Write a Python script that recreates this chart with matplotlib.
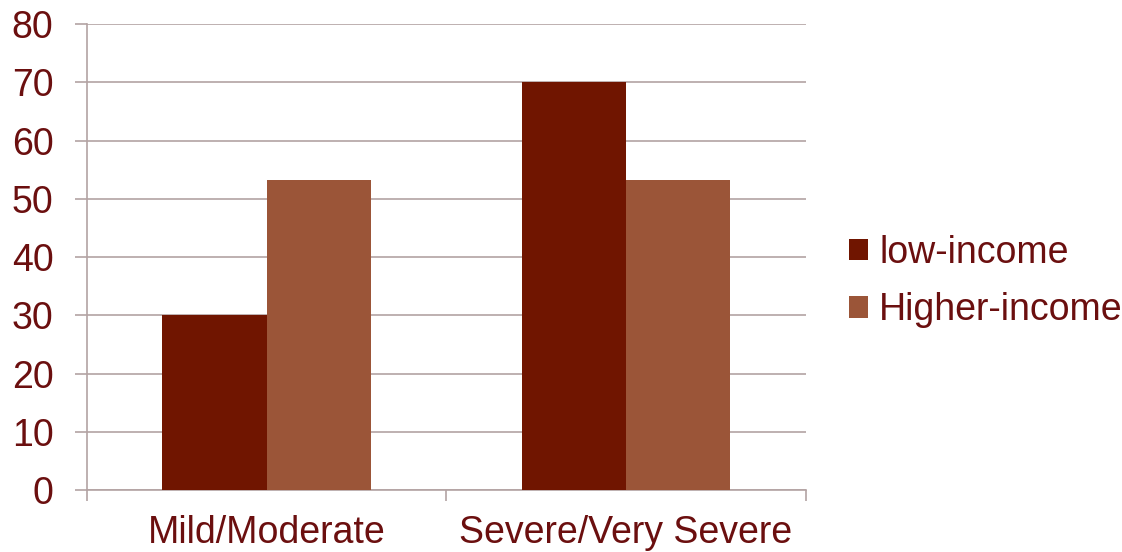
import matplotlib.pyplot as plt
import numpy as np

categories = ['Mild/Moderate', 'Severe/Very Severe']
low_income = [30, 70]
higher_income = [53.3, 53.3]
series_labels = ['low-income', 'Higher-income']

text_color = '#6b0f0f'
grid_color = '#b3a3a3'
colors = ['#701500', '#9b5538']

plt.rcParams['font.family'] = ['Liberation Sans', 'DejaVu Sans']

fig = plt.figure(figsize=(11.22, 5.52), dpi=100)
ax = fig.add_axes([0.0775, 0.112, 0.6405, 0.8445])

x = np.arange(len(categories))
bar_width = 0.29
ax.bar(x - bar_width / 2, low_income, bar_width, color=colors[0], label=series_labels[0], zorder=3)
ax.bar(x + bar_width / 2, higher_income, bar_width, color=colors[1], label=series_labels[1], zorder=3)

ax.set_xlim(-0.5, len(categories) - 0.5)
ax.set_ylim(0, 80)
ax.set_yticks(range(0, 81, 10))
ax.yaxis.grid(True, color=grid_color, linewidth=1.2, zorder=0)

# category labels on major ticks, boundary marks on minor ticks
ax.set_xticks(x)
ax.set_xticklabels(categories)
ax.set_xticks(np.arange(-0.5, len(categories)), minor=True)
ax.tick_params(axis='x', which='major', length=0, pad=18, labelsize=27, labelcolor=text_color)
ax.tick_params(axis='x', which='minor', length=8, width=1.2, color=grid_color)
ax.tick_params(axis='y', length=9, width=1.2, color=grid_color, labelsize=27,
               labelcolor=text_color, pad=15)

for side in ['top', 'right']:
    ax.spines[side].set_visible(False)
for side in ['left', 'bottom']:
    ax.spines[side].set_color(grid_color)
    ax.spines[side].set_linewidth(1.2)

fig.legend(loc='center left', bbox_to_anchor=(0.757, 0.49), frameon=False,
           borderpad=0, borderaxespad=0,
           fontsize=27, labelcolor=text_color, handlelength=0.5, handleheight=0.5,
           handletextpad=0.3, labelspacing=0.58)

fig.savefig('out.png', dpi=100)
